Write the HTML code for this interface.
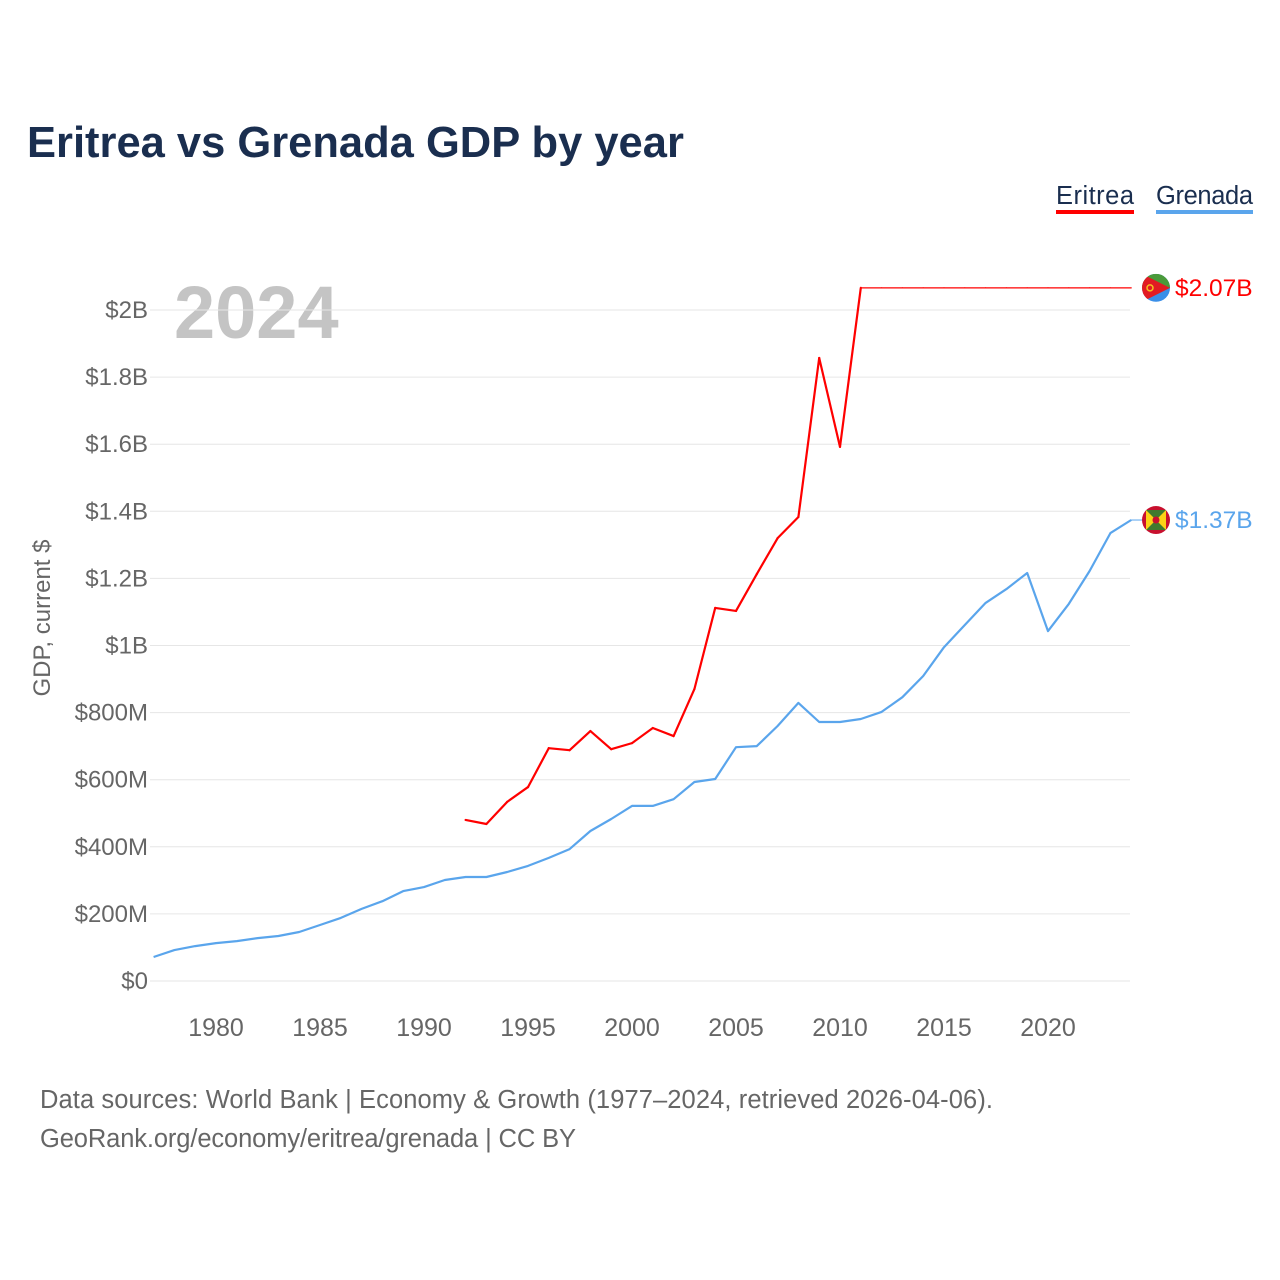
<!DOCTYPE html>
<html><head><meta charset="utf-8"><style>
body{margin:0;background:#fff;font-family:"Liberation Sans",sans-serif}
#wrap{position:relative;width:1280px;height:1280px;overflow:hidden}
</style></head><body><div id="wrap">
<svg id="chart" width="1280" height="1280">
<defs>
<clipPath id="cE"><circle cx="1156" cy="286" r="14"/></clipPath>
<clipPath id="cG"><circle cx="1156" cy="520" r="14"/></clipPath>
</defs>
</svg>
</div>
<script>
const yearsG=[];for(let y=1977;y<=2024;y++)yearsG.push(y);
const grenada=[71.5,92,104,113,119,128,134,146,167,188,215,238,268,280,301,310,310,325,343,367,393,447,483,522,522,542,593,602,697,700,760,829,772,772,781,802,846,909,995,1061,1127,1168,1216,1043,1124,1222,1335,1374];
const yearsE=[];for(let y=1992;y<=2024;y++)yearsE.push(y);
const eritrea=[480,468,534,578,694,688,745,691,709,754,730,870,1112,1103,1213,1320,1383,1857,1592,2066,2066,2066,2066,2066,2066,2066,2066,2066,2066,2066,2066,2066,2066];
const yTicks=[0,200,400,600,800,1000,1200,1400,1600,1800,2000];
const yLabels=["$0","$200M","$400M","$600M","$800M","$1B","$1.2B","$1.4B","$1.6B","$1.8B","$2B"];
const xTicks=[1980,1985,1990,1995,2000,2005,2010,2015,2020];
const NS="http://www.w3.org/2000/svg";
const svg=document.getElementById('chart');
const X=y=>216+(y-1980)*20.8;
const Y=v=>981-v*0.3355;
function el(t,a,txt){const e=document.createElementNS(NS,t);for(const k in a)e.setAttribute(k,a[k]);if(txt!==undefined)e.textContent=txt;svg.appendChild(e);return e;}
let e;
e=el('text',{x:27,y:157,'font-size':43.5,'font-weight':'bold',fill:'#1a2e4f'},'Eritrea vs Grenada GDP by year');

e=el('text',{x:174,y:338,'font-size':74,'font-weight':'bold',fill:'#c4c4c4'},'2024');

yTicks.forEach((v,i)=>{
 e=el('line',{x1:150,x2:1130,y1:Y(v),y2:Y(v),stroke:'#e6e6e6','stroke-width':1});
 
 e=el('text',{x:148,y:Y(v)+8,'font-size':24,fill:'#666','text-anchor':'end'},yLabels[i]);
 
});
xTicks.forEach(t=>{
 e=el('text',{x:X(t),y:1036,'font-size':25,fill:'#666','text-anchor':'middle'},String(t));
 
});
e=el('text',{x:50,y:618,'font-size':24,fill:'#666','text-anchor':'middle',transform:'rotate(-90 50 618)'},'GDP, current $');

function line(years,vals,color,name){
 const d=years.map((y,i)=>(i?'L':'M')+X(y).toFixed(1)+','+Y(vals[i]).toFixed(1)).join('');
 const p=el('path',{d:d,fill:'none',stroke:color,'stroke-width':2.2,'stroke-linejoin':'round'});
 
}
line(yearsG,grenada,'#5aa5ec','grenada-line');
for(let i=1;i<yearsE.length;i++){
 const flat=eritrea[i]===eritrea[i-1];
 const s=el('line',{x1:X(yearsE[i-1]),y1:Y(eritrea[i-1]),x2:X(yearsE[i]),y2:Y(eritrea[i]),stroke:'#ff0000','stroke-width':flat?1.2:2.2,'stroke-linecap':'round'});
 
 
}
const endE=eritrea[eritrea.length-1],endG=grenada[grenada.length-1];
const yE=Y(endE),yG=Y(endG);
document.querySelector('#cE circle').setAttribute('cy',yE);
document.querySelector('#cG circle').setAttribute('cy',yG);
e=el('line',{x1:1130,x2:1142,y1:yG,y2:yG,stroke:'#5aa5ec','stroke-width':1});

e=el('g',{'clip-path':'url(#cE)'});

e.innerHTML=`<rect x="1142" y="${yE-14}" width="28" height="28" fill="#3a8fe8"/><rect x="1142" y="${yE-14}" width="28" height="14" fill="#4a9a3a"/><path d="M1142,${yE-14} L1170,${yE} L1142,${yE+14} Z" fill="#e21b23"/><circle cx="1150" cy="${yE}" r="3" fill="none" stroke="#f4c21f" stroke-width="1.5"/>`;
e=el('g',{'clip-path':'url(#cG)'});

e.innerHTML=`<rect x="1142" y="${yG-14}" width="28" height="28" fill="#c8102e"/><rect x="1146" y="${yG-10}" width="20" height="20" fill="#3f7a2e"/><path d="M1146,${yG-10} L1166,${yG+10} L1166,${yG-10} L1146,${yG+10} Z" fill="#fcd116"/><circle cx="1156" cy="${yG}" r="3.5" fill="#c8102e"/>`;
e=el('text',{x:1175,y:yE+8,'font-size':24.5,fill:'#ff0000'},'$2.07B');

e=el('text',{x:1175,y:yG+8,'font-size':24.5,fill:'#5aa5ec'},'$1.37B');

e=el('text',{x:1056,y:204,'font-size':25.5,fill:'#1a2e4f',textLength:78},'Eritrea');

el('rect',{x:1056,y:210,width:78,height:4,fill:'#ff0000'});
e=el('text',{x:1156,y:204,'font-size':25.5,fill:'#1a2e4f',textLength:97},'Grenada');

el('rect',{x:1156,y:210,width:97,height:4,fill:'#5aa5ec'});
e=el('text',{x:40,y:1108,'font-size':25.5,fill:'#666',textLength:953},'Data sources: World Bank | Economy & Growth (1977–2024, retrieved 2026-04-06).');

e=el('text',{x:40,y:1147,'font-size':25.5,fill:'#666',textLength:536},'GeoRank.org/economy/eritrea/grenada | CC BY');

</script></body></html>
